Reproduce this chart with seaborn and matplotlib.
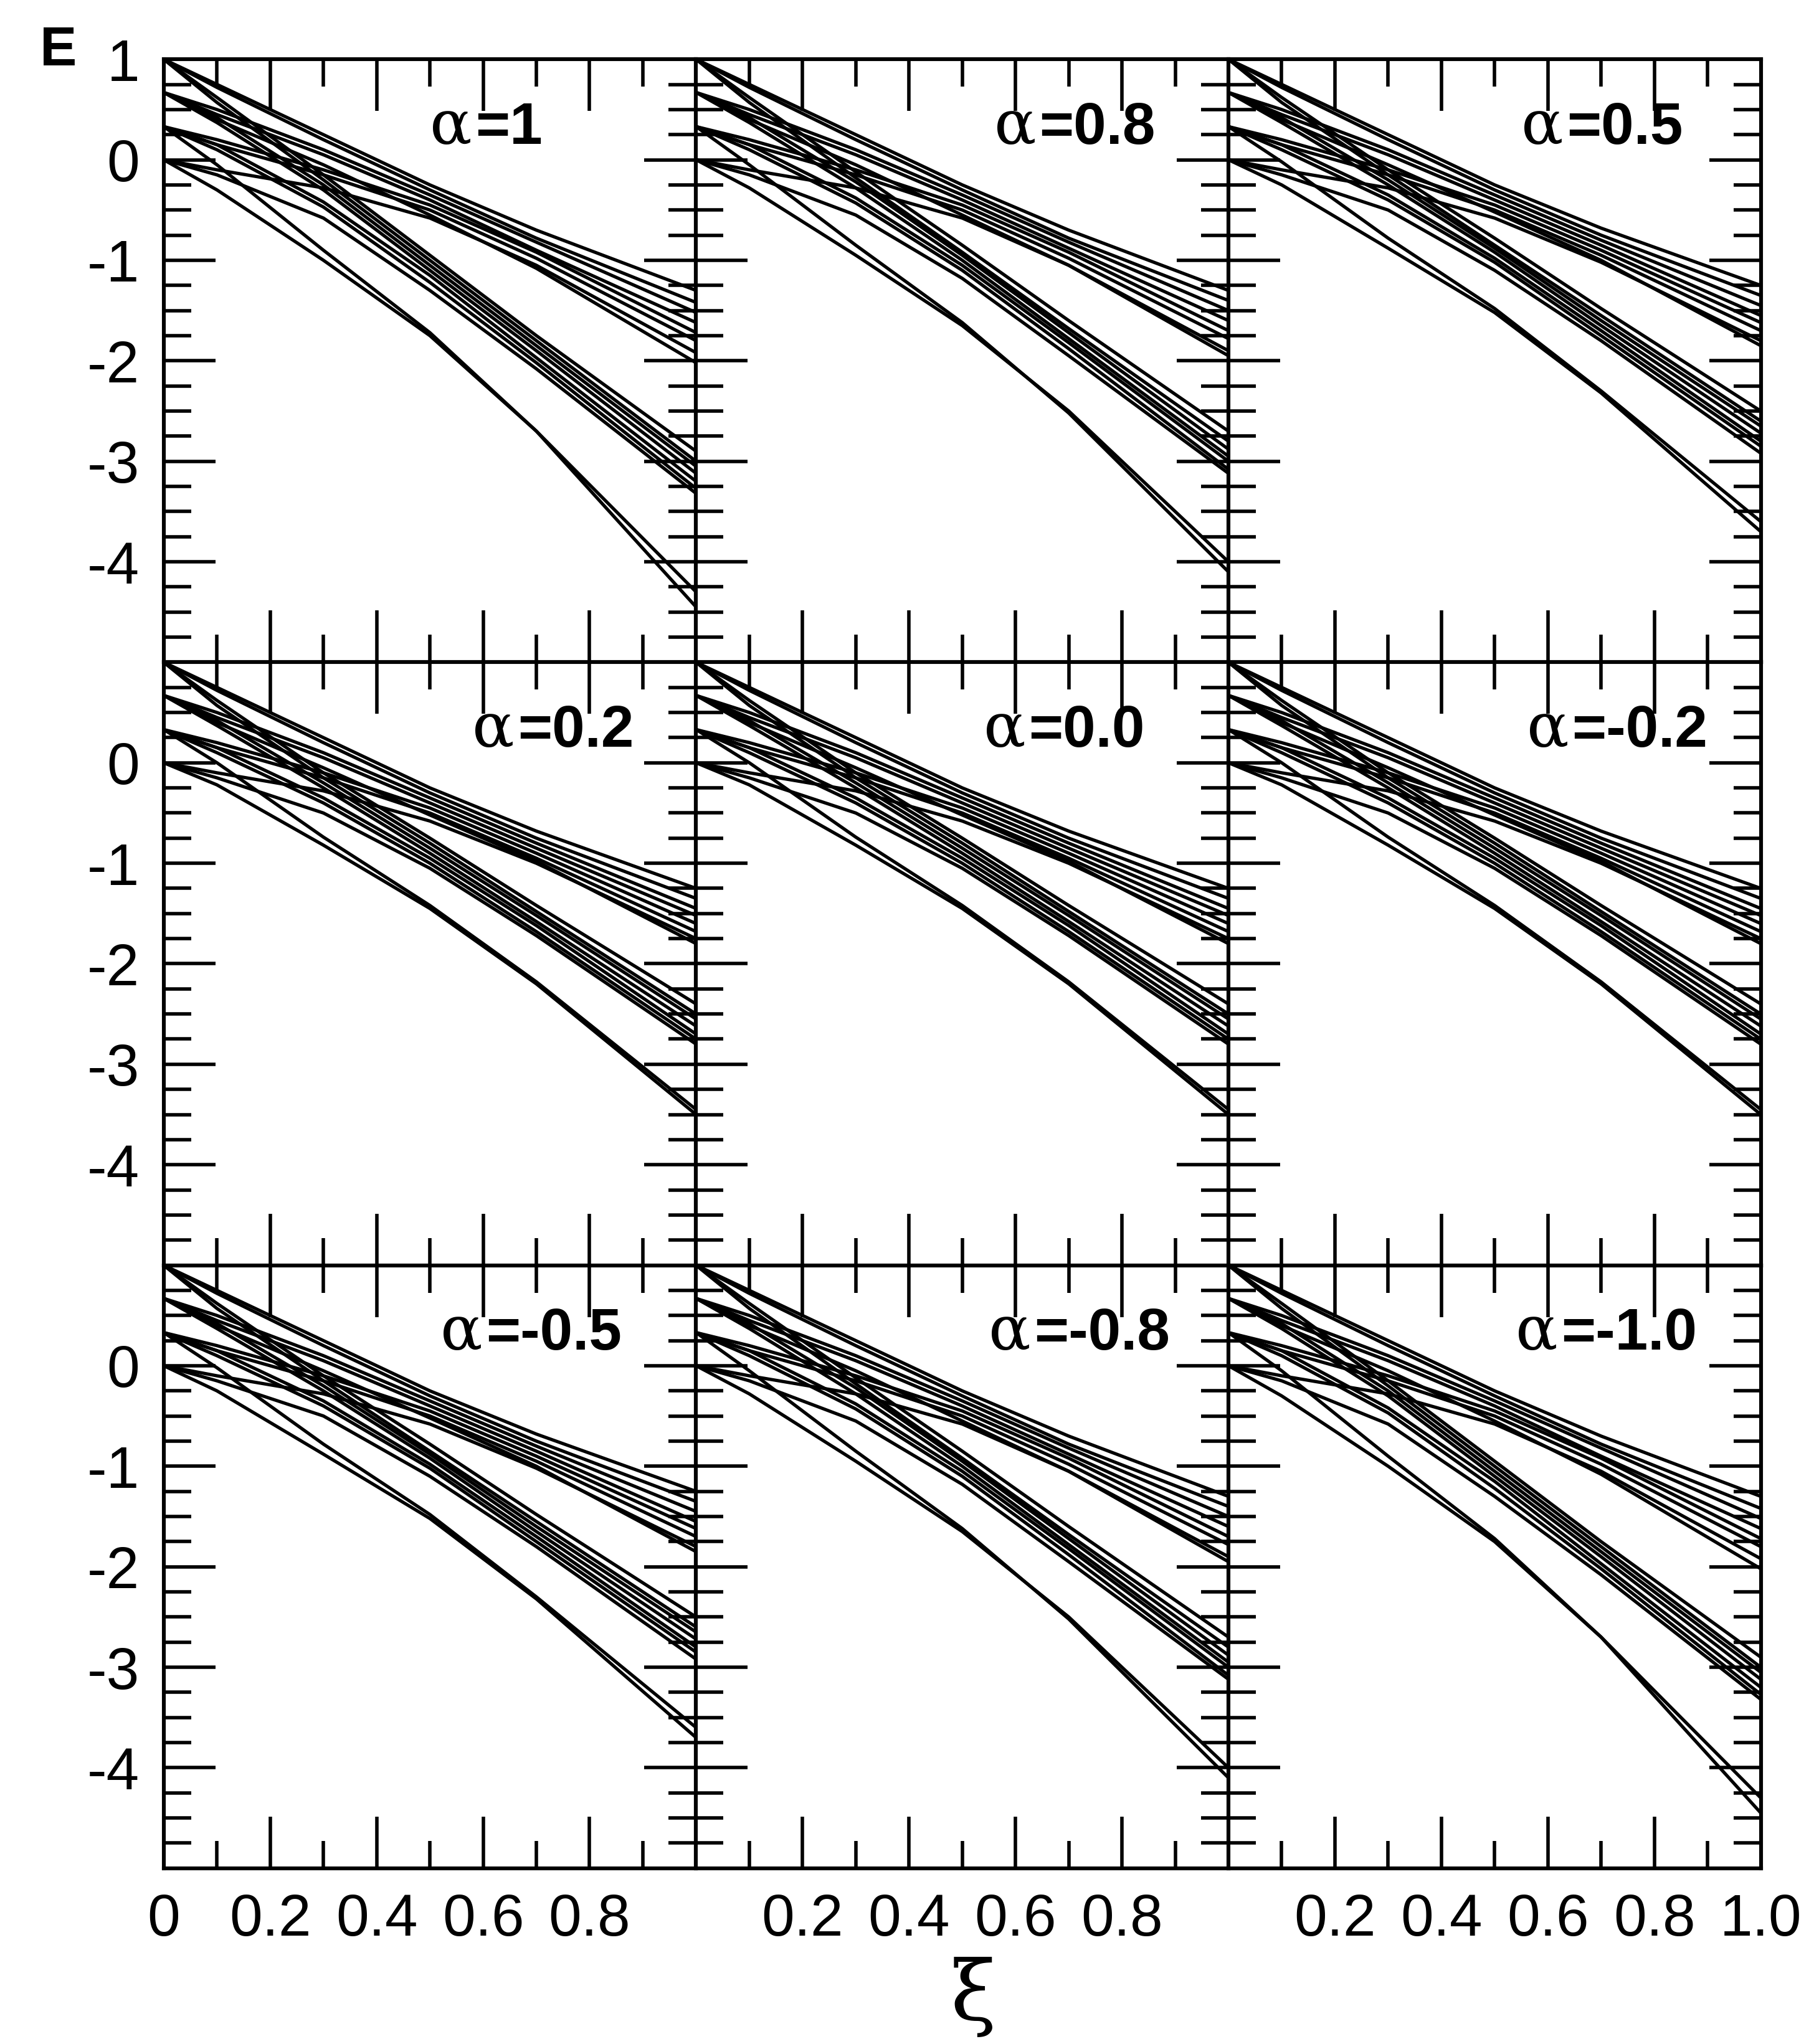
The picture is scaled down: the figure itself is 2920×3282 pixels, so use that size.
import numpy as np
import matplotlib
matplotlib.use("Agg")
import matplotlib.pyplot as plt
from matplotlib.ticker import MultipleLocator
import seaborn as sns

sns.set_style("ticks", {"text.color": "black", "xtick.color": "black", "ytick.color": "black",
                        "axes.edgecolor": "black"})
plt.rcParams['font.family'] = ['Liberation Sans', 'DejaVu Sans']

# xi sample points of every level line
xi = [0, 0.1, 0.3, 0.5, 0.7, 1.0]

# level lines, one row per line (|alpha| groups)
levels_a10 = [
    [1, 0.75, 0.25, -0.25, -0.7, -1.3],
    [1, 0.72, 0.2, -0.3, -0.78, -1.42],
    [0.67, 0.5, 0.1, -0.35, -0.82, -1.52],
    [0.67, 0.45, 0.05, -0.4, -0.9, -1.62],
    [0.33, 0.2, -0.1, -0.45, -0.92, -1.72],
    [0.33, 0.15, -0.15, -0.5, -0.98, -1.8],
    [0, -0.1, -0.28, -0.58, -1.05, -1.92],
    [0.67, 0.4, -0.05, -0.55, -1.08, -2.02],
    [1, 0.62, -0.15, -0.95, -1.75, -2.9],
    [1, 0.57, -0.2, -1.0, -1.8, -3.0],
    [0.67, 0.42, -0.25, -1.05, -1.85, -3.05],
    [0.67, 0.37, -0.3, -1.1, -1.9, -3.12],
    [0.33, 0.15, -0.42, -1.15, -1.97, -3.2],
    [0.33, 0.1, -0.47, -1.22, -2.02, -3.27],
    [0, -0.15, -0.58, -1.3, -2.08, -3.32],
    [0, -0.3, -1.0, -1.75, -2.7, -4.3],
    [0.33, -0.05, -0.9, -1.72, -2.7, -4.45],
]
levels_a08 = [
    [1, 0.75, 0.25, -0.25, -0.7, -1.3],
    [1, 0.72, 0.2, -0.3, -0.78, -1.4],
    [0.67, 0.5, 0.1, -0.35, -0.82, -1.5],
    [0.67, 0.45, 0.05, -0.4, -0.88, -1.6],
    [0.33, 0.2, -0.1, -0.45, -0.92, -1.7],
    [0.33, 0.15, -0.15, -0.5, -0.98, -1.78],
    [0, -0.1, -0.28, -0.58, -1.05, -1.9],
    [0.67, 0.4, -0.05, -0.55, -1.05, -1.95],
    [1, 0.62, -0.12, -0.85, -1.6, -2.7],
    [1, 0.57, -0.18, -0.92, -1.68, -2.8],
    [0.67, 0.42, -0.22, -0.95, -1.72, -2.88],
    [0.67, 0.37, -0.28, -1.0, -1.78, -2.95],
    [0.33, 0.15, -0.38, -1.05, -1.82, -3.0],
    [0.33, 0.1, -0.43, -1.1, -1.88, -3.08],
    [0, -0.15, -0.55, -1.18, -1.95, -3.12],
    [0, -0.28, -0.95, -1.65, -2.5, -4.0],
    [0.33, -0.05, -0.85, -1.62, -2.52, -4.1],
]
levels_a05 = [
    [1, 0.75, 0.25, -0.25, -0.68, -1.25],
    [1, 0.72, 0.2, -0.3, -0.75, -1.35],
    [0.67, 0.5, 0.1, -0.35, -0.8, -1.45],
    [0.67, 0.45, 0.05, -0.4, -0.85, -1.55],
    [0.33, 0.2, -0.1, -0.45, -0.9, -1.62],
    [0.33, 0.15, -0.15, -0.5, -0.95, -1.7],
    [0, -0.1, -0.28, -0.58, -1.02, -1.8],
    [0.67, 0.4, -0.05, -0.52, -1.0, -1.85],
    [1, 0.62, -0.1, -0.78, -1.48, -2.5],
    [1, 0.57, -0.15, -0.85, -1.55, -2.6],
    [0.67, 0.42, -0.2, -0.88, -1.6, -2.65],
    [0.67, 0.37, -0.25, -0.92, -1.65, -2.72],
    [0.33, 0.15, -0.35, -0.98, -1.7, -2.8],
    [0.33, 0.1, -0.4, -1.02, -1.75, -2.85],
    [0, -0.15, -0.5, -1.1, -1.8, -2.92],
    [0, -0.25, -0.88, -1.52, -2.32, -3.7],
    [0.33, -0.02, -0.78, -1.48, -2.3, -3.6],
]
levels_a02 = [
    [1, 0.75, 0.25, -0.25, -0.68, -1.25],
    [1, 0.72, 0.2, -0.3, -0.75, -1.35],
    [0.67, 0.5, 0.1, -0.35, -0.8, -1.45],
    [0.67, 0.45, 0.05, -0.4, -0.85, -1.52],
    [0.33, 0.2, -0.1, -0.45, -0.9, -1.6],
    [0.33, 0.15, -0.15, -0.5, -0.95, -1.68],
    [0, -0.1, -0.28, -0.58, -1.0, -1.75],
    [0.67, 0.4, -0.05, -0.52, -0.98, -1.8],
    [1, 0.62, -0.1, -0.75, -1.42, -2.4],
    [1, 0.57, -0.15, -0.8, -1.48, -2.5],
    [0.67, 0.42, -0.2, -0.85, -1.52, -2.55],
    [0.67, 0.37, -0.25, -0.9, -1.58, -2.62],
    [0.33, 0.15, -0.35, -0.95, -1.62, -2.7],
    [0.33, 0.1, -0.4, -1.0, -1.68, -2.75],
    [0, -0.15, -0.5, -1.05, -1.72, -2.8],
    [0, -0.22, -0.82, -1.45, -2.2, -3.5],
    [0.33, 0.0, -0.74, -1.42, -2.18, -3.45],
]

alpha_labels = ["1", "0.8", "0.5", "0.2", "0.0", "-0.2", "-0.5", "-0.8", "-1.0"]
panel_levels = [levels_a10, levels_a08, levels_a05,
                levels_a02, levels_a02, levels_a02,
                levels_a05, levels_a08, levels_a10]
label_x = [0.5, 0.56, 0.55, 0.58, 0.54, 0.56, 0.52, 0.55, 0.54]

fig, axes = plt.subplots(3, 3, figsize=(14.6, 16.41), dpi=200)
fig.subplots_adjust(left=0.09, right=0.968, top=0.971, bottom=0.086, wspace=0, hspace=0)

for k, ax in enumerate(axes.flat):
    r, c = divmod(k, 3)
    for row in panel_levels[k]:
        sns.lineplot(x=xi, y=row, ax=ax, color="black", lw=1.9, legend=False)
    ax.set_xlim(0, 1)
    ax.set_ylim(-5, 1)
    ax.set_xticks([0, 0.2, 0.4, 0.6, 0.8, 1.0])
    ax.set_yticks([1, 0, -1, -2, -3, -4])
    ax.xaxis.set_minor_locator(MultipleLocator(0.1))
    ax.yaxis.set_minor_locator(MultipleLocator(0.25))
    ax.tick_params(which="both", direction="in", top=True, right=True, width=2,
                   labelsize=34, pad=14, colors="black")
    ax.tick_params(which="major", length=30)
    ax.tick_params(which="minor", length=16)
    for s in ax.spines.values():
        s.set_linewidth(2.2)
    if c == 0:
        ax.set_yticklabels(["1" if r == 0 else ""] + ["0", "-1", "-2", "-3", "-4"])
    else:
        ax.set_yticklabels([])
    if r == 2:
        labs = ["0", "0.2", "0.4", "0.6", "0.8", ""]
        if c > 0:
            labs[0] = ""
        if c == 2:
            labs[5] = "1.0"
        ax.set_xticklabels(labs)
    else:
        ax.set_xticklabels([])
    ax.set_xlabel("")
    ax.set_ylabel("")
    ax.text(label_x[k], 0.86, "α", transform=ax.transAxes, fontsize=36,
            family=["DejaVu Serif"], color="black")
    ax.text(label_x[k] + 0.085, 0.86, "=" + alpha_labels[k], transform=ax.transAxes,
            fontsize=34, fontweight="bold", color="black")

fig.text(0.535, 0.012, "ξ", fontsize=48, ha="center", family=["DejaVu Serif"])
fig.text(0.022, 0.968, "E", fontsize=32, fontweight="bold")
fig.savefig("out.png", dpi=200)
